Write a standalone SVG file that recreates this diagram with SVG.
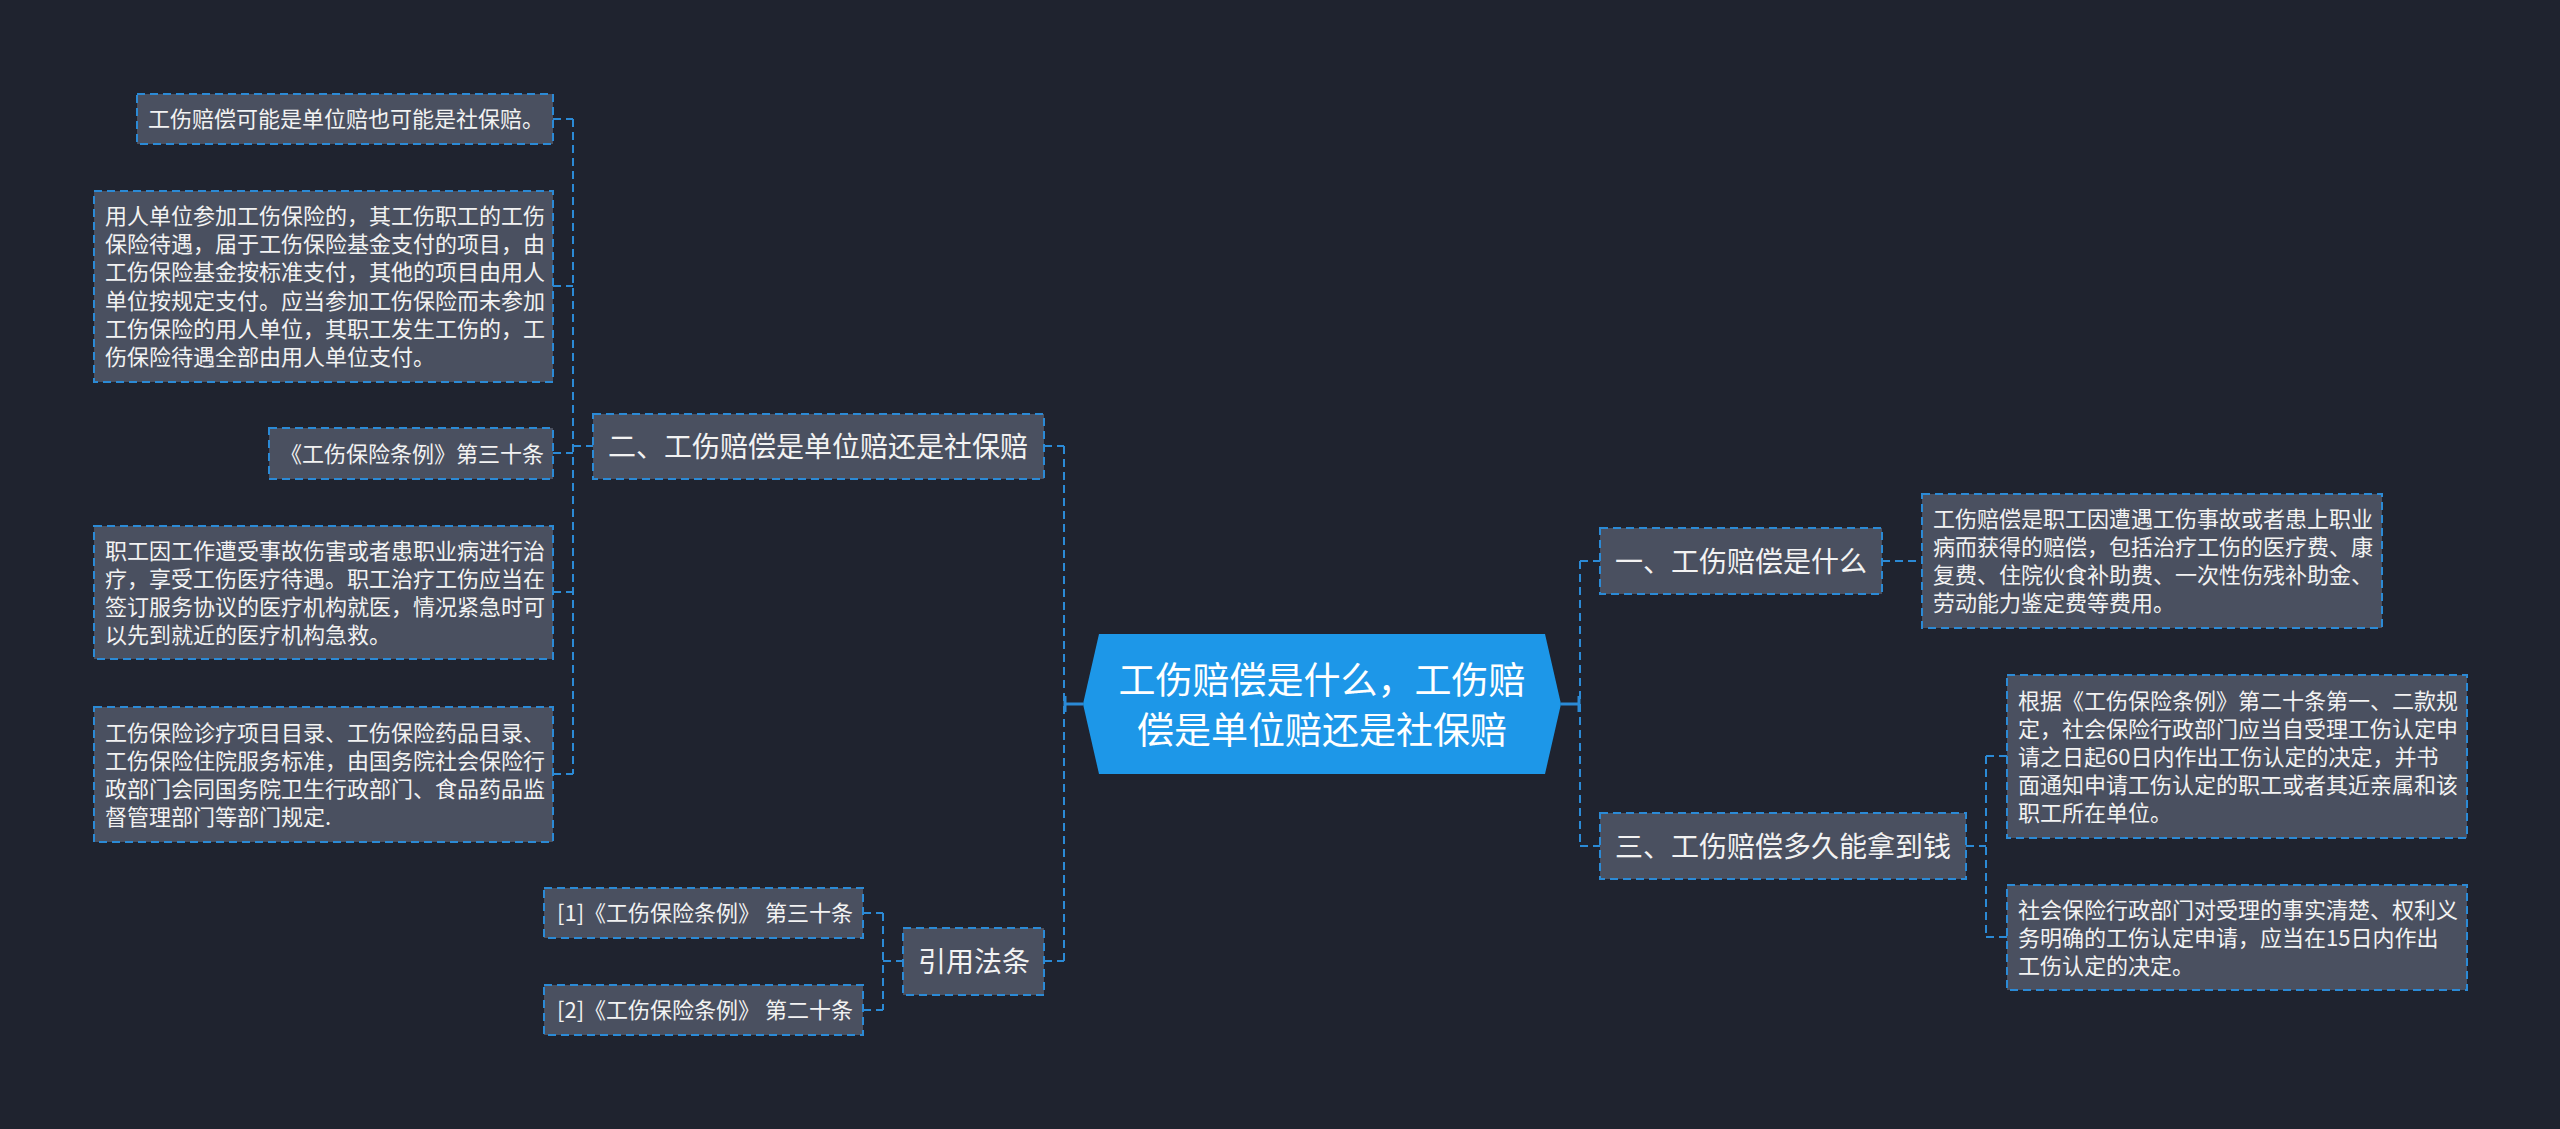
<svg xmlns="http://www.w3.org/2000/svg" width="2560" height="1129" viewBox="0 0 2560 1129">
<style>
.bg{fill:#1f232f}
.box{fill:#4a5060;stroke:#2b8ad6;stroke-width:2;stroke-dasharray:8 5}
.t{font-family:"Noto Sans CJK SC","Noto Sans",sans-serif;fill:#f2f2f2}
.s22{font-size:22px}
.s28{font-size:28px}
.s37{font-size:37px;fill:#ffffff}
.c{fill:none;stroke:#2b8ad6;stroke-width:2;stroke-dasharray:8 5}
.solid{fill:none;stroke:#2b8ad6;stroke-width:3}
</style>
<rect class="bg" x="0" y="0" width="2560" height="1129"/>
<g id="connectors">
<path class="c" d="M573,119 V774 M553,119 H573 M553,286 H573 M553,453 H573 M553,592 H573 M553,774 H573 M573,446 H593"/>
<path class="c" d="M1064,446 V961 M1044,446 H1064 M1044,961 H1064"/>
<path class="solid" d="M1064,704 H1083 M1065,696 V712"/>
<path class="c" d="M883,913 V1010 M863,913 H883 M863,1010 H883 M883,961 H903"/>
<path class="c" d="M1580,561 V846 M1580,561 H1600 M1580,846 H1600"/>
<path class="solid" d="M1561,704 H1580 M1579,696 V712"/>
<path class="c" d="M1882,561 H1922"/>
<path class="c" d="M1986,756 V937 M1966,846 H1986 M1986,756 H2007 M1986,937 H2007"/>
</g>
<g id="center">
<polygon points="1099,634 1545,634 1561,704 1545,774 1099,774 1083,704" fill="#1d97e8"/>
<text class="t s37" x="1322" y="694" text-anchor="middle">工伤赔偿是什么，工伤赔</text>
<text class="t s37" x="1322" y="744" text-anchor="middle">偿是单位赔还是社保赔</text>
</g>
<g id="n-er">
<rect class="box" x="593" y="414" width="451" height="65"/>
<text class="t s28" x="608" y="457">二、工伤赔偿是单位赔还是社保赔</text>
</g>
<g id="n-l1">
<rect class="box" x="137" y="94" width="416" height="50"/>
<text class="t s22" x="148" y="127">工伤赔偿可能是单位赔也可能是社保赔。</text>
</g>
<g id="n-l2">
<rect class="box" x="94" y="191" width="459" height="191"/>
<text class="t s22" x="105" y="224">用人单位参加工伤保险的，其工伤职工的工伤</text>
<text class="t s22" x="105" y="252.2">保险待遇，届于工伤保险基金支付的项目，由</text>
<text class="t s22" x="105" y="280.4">工伤保险基金按标准支付，其他的项目由用人</text>
<text class="t s22" x="105" y="308.6">单位按规定支付。应当参加工伤保险而未参加</text>
<text class="t s22" x="105" y="336.8">工伤保险的用人单位，其职工发生工伤的，工</text>
<text class="t s22" x="105" y="365">伤保险待遇全部由用人单位支付。</text>
</g>
<g id="n-l3">
<rect class="box" x="269" y="428" width="284" height="51"/>
<text class="t s22" x="280" y="461.5">《工伤保险条例》第三十条</text>
</g>
<g id="n-l4">
<rect class="box" x="94" y="526" width="459" height="133"/>
<text class="t s22" x="105" y="558.5">职工因工作遭受事故伤害或者患职业病进行治</text>
<text class="t s22" x="105" y="586.5">疗，享受工伤医疗待遇。职工治疗工伤应当在</text>
<text class="t s22" x="105" y="614.5">签订服务协议的医疗机构就医，情况紧急时可</text>
<text class="t s22" x="105" y="642.5">以先到就近的医疗机构急救。</text>
</g>
<g id="n-l5">
<rect class="box" x="94" y="707" width="459" height="135"/>
<text class="t s22" x="105" y="740.5">工伤保险诊疗项目目录、工伤保险药品目录、</text>
<text class="t s22" x="105" y="768.5">工伤保险住院服务标准，由国务院社会保险行</text>
<text class="t s22" x="105" y="796.5">政部门会同国务院卫生行政部门、食品药品监</text>
<text class="t s22" x="105" y="824.5">督管理部门等部门规定.</text>
</g>
<g id="n-yinyong">
<rect class="box" x="903" y="928" width="141" height="67"/>
<text class="t s28" x="918" y="972">引用法条</text>
</g>
<g id="n-ref1">
<rect class="box" x="544" y="888" width="319" height="50"/>
<text class="t s22" x="557" y="921">[1]《工伤保险条例》 第三十条</text>
</g>
<g id="n-ref2">
<rect class="box" x="544" y="985" width="319" height="50"/>
<text class="t s22" x="557" y="1018">[2]《工伤保险条例》 第二十条</text>
</g>
<g id="n-yi">
<rect class="box" x="1600" y="528" width="282" height="66"/>
<text class="t s28" x="1615" y="571.5">一、工伤赔偿是什么</text>
</g>
<g id="n-san">
<rect class="box" x="1600" y="813" width="366" height="66"/>
<text class="t s28" x="1615" y="856.5">三、工伤赔偿多久能拿到钱</text>
</g>
<g id="n-r1">
<rect class="box" x="1922" y="494" width="460" height="134"/>
<text class="t s22" x="1933" y="527">工伤赔偿是职工因遭遇工伤事故或者患上职业</text>
<text class="t s22" x="1933" y="555">病而获得的赔偿，包括治疗工伤的医疗费、康</text>
<text class="t s22" x="1933" y="583">复费、住院伙食补助费、一次性伤残补助金、</text>
<text class="t s22" x="1933" y="611">劳动能力鉴定费等费用。</text>
</g>
<g id="n-r2">
<rect class="box" x="2007" y="675" width="460" height="163"/>
<text class="t s22" x="2018" y="708.5">根据《工伤保险条例》第二十条第一、二款规</text>
<text class="t s22" x="2018" y="736.5">定，社会保险行政部门应当自受理工伤认定申</text>
<text class="t s22" x="2018" y="764.5">请之日起60日内作出工伤认定的决定，并书</text>
<text class="t s22" x="2018" y="792.5">面通知申请工伤认定的职工或者其近亲属和该</text>
<text class="t s22" x="2018" y="820.5">职工所在单位。</text>
</g>
<g id="n-r3">
<rect class="box" x="2007" y="885" width="460" height="105"/>
<text class="t s22" x="2018" y="917.5">社会保险行政部门对受理的事实清楚、权利义</text>
<text class="t s22" x="2018" y="945.5">务明确的工伤认定申请，应当在15日内作出</text>
<text class="t s22" x="2018" y="973.5">工伤认定的决定。</text>
</g>
</svg>
